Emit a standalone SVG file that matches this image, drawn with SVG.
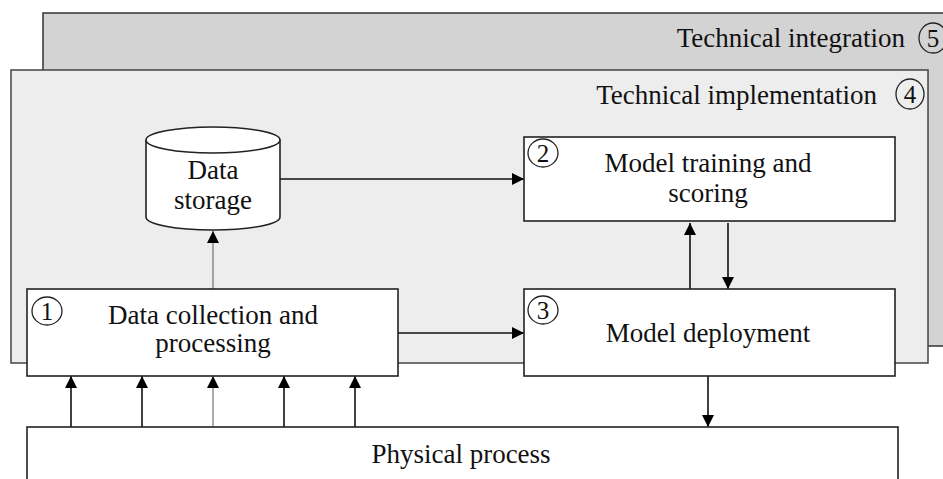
<svg xmlns="http://www.w3.org/2000/svg" width="943" height="479" viewBox="0 0 943 479">
  <style>
    text { font-family: "Liberation Serif", "Times New Roman", serif; font-size: 27px; fill: #111; }
    .mid { text-anchor: middle; }
    .num { font-size: 25px; text-anchor: middle; }
    .box { fill: #ffffff; stroke: #222; stroke-width: 1.6; }
    .circ { fill: none; stroke: #222; stroke-width: 1.3; }
    .conn { stroke: #111; stroke-width: 1.6; fill: none; }
    .thin { stroke: #666; stroke-width: 1.1; }
  </style>
  <defs>
    <marker id="ah" viewBox="0 0 12 12" refX="12" refY="6" markerWidth="12" markerHeight="12" markerUnits="userSpaceOnUse" orient="auto">
      <path d="M0,0 L12,6 L0,12 Z" fill="#000"/>
    </marker>
  </defs>
  <rect width="943" height="479" fill="#ffffff"/>

  <g id="technical-integration">
    <rect x="43" y="13" width="910" height="333" fill="#d3d3d3" stroke="#333" stroke-width="1.5"/>
    <text x="905" y="47" text-anchor="end">Technical integration</text>
    <ellipse class="circ" cx="933" cy="38" rx="14" ry="15"/>
    <text class="num" x="933" y="47">5</text>
  </g>

  <g id="technical-implementation">
    <rect x="11" y="70" width="917" height="293" fill="#ededed" stroke="#444" stroke-width="1.5"/>
    <text x="877" y="104" text-anchor="end">Technical implementation</text>
    <ellipse class="circ" cx="910" cy="94" rx="14" ry="15"/>
    <text class="num" x="910" y="103">4</text>
  </g>

  <g id="connectors">
    <line class="conn thin" x1="213" y1="289" x2="213" y2="231" marker-end="url(#ah)"/>
    <line class="conn" x1="280" y1="179" x2="524" y2="179" marker-end="url(#ah)"/>
    <line class="conn" x1="398" y1="333" x2="524" y2="333" marker-end="url(#ah)"/>
    <line class="conn" x1="690" y1="289" x2="690" y2="223" marker-end="url(#ah)"/>
    <line class="conn" x1="728" y1="223" x2="728" y2="289" marker-end="url(#ah)"/>
    <line class="conn" x1="708" y1="376" x2="708" y2="427" marker-end="url(#ah)"/>
    <line class="conn" x1="71" y1="427" x2="71" y2="376" marker-end="url(#ah)"/>
    <line class="conn" x1="142" y1="427" x2="142" y2="376" marker-end="url(#ah)"/>
    <line class="conn thin" x1="213" y1="427" x2="213" y2="376" marker-end="url(#ah)"/>
    <line class="conn" x1="284" y1="427" x2="284" y2="376" marker-end="url(#ah)"/>
    <line class="conn" x1="355" y1="427" x2="355" y2="376" marker-end="url(#ah)"/>
  </g>

  <g id="data-storage">
    <path d="M146,140 L146,217 A67,13 0 0 0 280,217 L280,140" fill="#ffffff" stroke="#222" stroke-width="1.6"/>
    <ellipse cx="213" cy="140" rx="67" ry="13" fill="#ffffff" stroke="#222" stroke-width="1.6"/>
    <text class="mid" x="213" y="179">Data</text>
    <text class="mid" x="213" y="209">storage</text>
  </g>

  <g id="data-collection">
    <rect class="box" x="27" y="289" width="371" height="87"/>
    <ellipse class="circ" cx="47" cy="311" rx="15" ry="14"/>
    <text class="num" x="47" y="320">1</text>
    <text class="mid" x="213" y="324">Data collection and</text>
    <text class="mid" x="213" y="352">processing</text>
  </g>

  <g id="model-training">
    <rect class="box" x="524" y="137" width="371" height="84"/>
    <ellipse class="circ" cx="543" cy="153" rx="15" ry="14"/>
    <text class="num" x="543" y="162">2</text>
    <text class="mid" x="708" y="172">Model training and</text>
    <text class="mid" x="708" y="202">scoring</text>
  </g>

  <g id="model-deployment">
    <rect class="box" x="524" y="289" width="371" height="87"/>
    <ellipse class="circ" cx="543" cy="310" rx="15" ry="14"/>
    <text class="num" x="543" y="319">3</text>
    <text class="mid" x="708" y="342">Model deployment</text>
  </g>

  <g id="physical-process">
    <rect class="box" x="27" y="427" width="871" height="70"/>
    <text class="mid" x="461" y="463">Physical process</text>
  </g>
</svg>
